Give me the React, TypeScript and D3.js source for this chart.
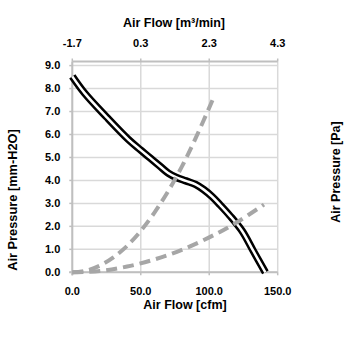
import React from "react";
import * as d3 from "d3";

const cfmTicks = [0, 50, 100, 150];
const cmmTickLabels = ["-1.7", "0.3", "2.3", "4.3"];
const pressureTicks = [0, 1, 2, 3, 4, 5, 6, 7, 8, 9];

const fanFlow = [0, 9, 25, 41, 50, 57, 64, 70, 76, 83, 90, 96, 102, 108, 115, 124, 132, 141];
const fanPressure = [8.53, 7.8, 6.76, 5.78, 5.32, 4.97, 4.62, 4.32, 4.13, 3.98, 3.83, 3.6, 3.3, 2.93, 2.47, 1.8, 0.95, 0];

const sysHighFlow = [0, 10, 20, 30, 40, 50, 60, 70, 80, 90, 102.8];
const sysHighPressure = [0, 0.07, 0.29, 0.65, 1.15, 1.8, 2.6, 3.53, 4.6, 5.83, 7.55];

const sysLowFlow = [0, 20, 40, 60, 80, 100, 120, 140];
const sysLowPressure = [0, 0.06, 0.25, 0.56, 0.98, 1.52, 2.17, 2.95];

export default function App() {
  const left = 72.3, right = 277.7, top = 61.5;
  const x = d3.scaleLinear().domain([0, 150]).range([left, right]);
  const xTop = d3.scaleLinear().domain([-1.7, 4.3]).range([left, right]);
  const y = d3.scaleLinear().domain([0, 9]).range([272.3, 65.6]);
  const bottom = y(0);

  const line = d3
    .line<[number, number]>()
    .x((d) => x(d[0]))
    .y((d) => y(d[1]))
    .curve(d3.curveCatmullRom.alpha(0.5));

  const fan = line(fanFlow.map((f, i) => [f, fanPressure[i]]) as [number, number][]) || "";
  const sysHigh = line(sysHighFlow.map((f, i) => [f, sysHighPressure[i]]) as [number, number][]) || "";
  const sysLow = line(sysLowFlow.map((f, i) => [f, sysLowPressure[i]]) as [number, number][]) || "";

  const font = "Liberation Sans, Arial, sans-serif";
  const grid = "#d9d9d9";
  const axis = "#bfbfbf";

  return (
    <svg
      width={355}
      height={355}
      style={{ position: "absolute", left: 0, top: 0, background: "#fff" }}
      fontFamily={font}
    >
      {/* horizontal gridlines */}
      {pressureTicks.map((t) => (
        <line key={"h" + t} x1={left} x2={right} y1={y(t)} y2={y(t)} stroke={grid} strokeWidth={1.5} />
      ))}
      {/* vertical gridlines */}
      {cfmTicks.map((t) => (
        <line key={"v" + t} x1={x(t)} x2={x(t)} y1={top} y2={bottom} stroke={grid} strokeWidth={1.5} />
      ))}
      {/* axes lines */}
      <line x1={left} x2={left} y1={top} y2={bottom + 3} stroke={axis} strokeWidth={2} />
      <line x1={left - 3} x2={right} y1={bottom} y2={bottom} stroke={axis} strokeWidth={2} />
      <line x1={left} x2={right} y1={top} y2={top} stroke={axis} strokeWidth={2} />
      {pressureTicks.map((t) => (
        <line key={"yt" + t} x1={left - 3} x2={left} y1={y(t)} y2={y(t)} stroke={axis} strokeWidth={1.5} />
      ))}
      {cfmTicks.map((t, i) => (
        <g key={"xt" + t}>
          <line x1={x(t)} x2={x(t)} y1={bottom} y2={bottom + 3} stroke={axis} strokeWidth={1.5} />
          <line x1={xTop(Number(cmmTickLabels[i]))} x2={xTop(Number(cmmTickLabels[i]))} y1={top - 3} y2={top} stroke={axis} strokeWidth={1.5} />
        </g>
      ))}

      {/* fan curve: double line */}
      <path d={fan} fill="none" stroke="#000" strokeWidth={7.5} />
      <path d={fan} fill="none" stroke="#fff" strokeWidth={2.5} />

      {/* system curves (drawn over the fan curve) */}
      <path d={sysHigh} fill="none" stroke="#a6a6a6" strokeWidth={4} strokeDasharray="11 6" />
      <path d={sysLow} fill="none" stroke="#a6a6a6" strokeWidth={4} strokeDasharray="11 6" />

      {/* y tick labels */}
      {pressureTicks.map((t) => (
        <text key={"yl" + t} x={left - 12} y={y(t)} dy="0.35em" textAnchor="end" fontSize={11} fontWeight="bold" fill="#000">
          {t.toFixed(1)}
        </text>
      ))}
      {/* bottom tick labels */}
      {cfmTicks.map((t) => (
        <text key={"bl" + t} x={x(t)} y={291} dy="0.35em" textAnchor="middle" fontSize={11} fontWeight="bold" fill="#000">
          {t.toFixed(1)}
        </text>
      ))}
      {/* top tick labels */}
      {cmmTickLabels.map((t) => (
        <text key={"tl" + t} x={xTop(Number(t))} y={43} dy="0.35em" textAnchor="middle" fontSize={11} fontWeight="bold" fill="#000">
          {t}
        </text>
      ))}

      {/* titles */}
      <text x={174} y={23} dy="0.35em" textAnchor="middle" fontSize={12.5} fontWeight="bold" fill="#000">
        Air Flow [m³/min]
      </text>
      <text x={185} y={305} dy="0.35em" textAnchor="middle" fontSize={12.5} fontWeight="bold" fill="#000">
        Air Flow [cfm]
      </text>
      <text
        transform="translate(12.5,200) rotate(-90)"
        dy="0.35em"
        textAnchor="middle"
        fontSize={12.8}
        fontWeight="bold"
        fill="#000"
      >
        Air Pressure [mm-H2O]
      </text>
      <text
        transform="translate(336,172) rotate(-90)"
        dy="0.35em"
        textAnchor="middle"
        fontSize={12.5}
        fontWeight="bold"
        fill="#000"
      >
        Air Pressure [Pa]
      </text>
    </svg>
  );
}
